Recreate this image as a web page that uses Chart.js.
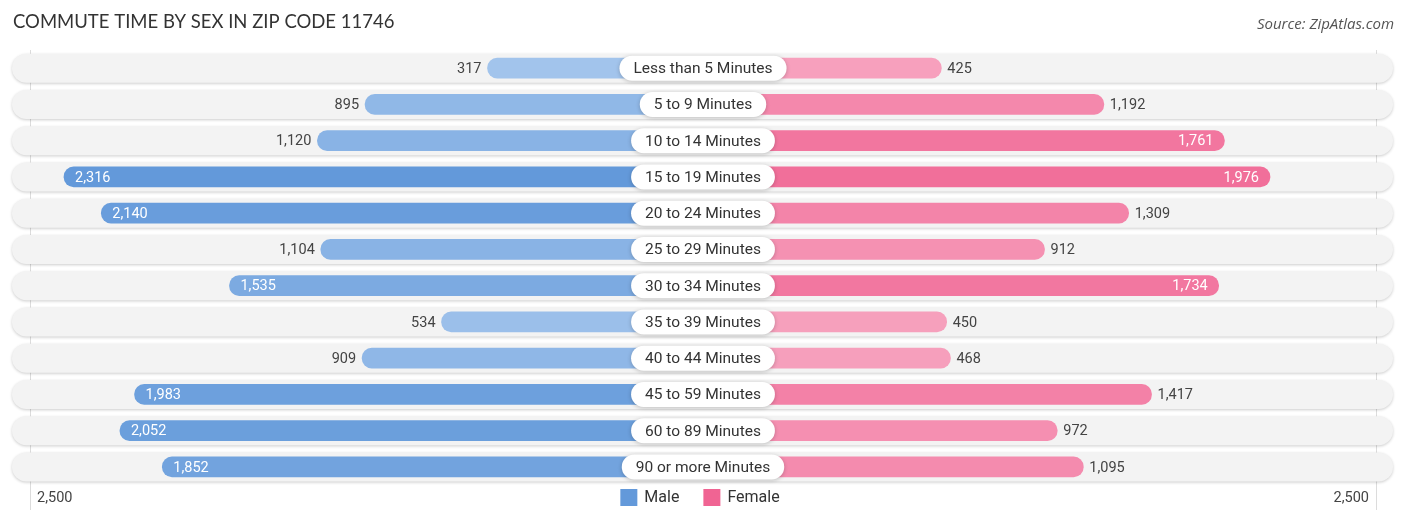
<!DOCTYPE html>
<html>
<head>
<meta charset="utf-8">
<script src="https://cdn.jsdelivr.net/npm/chart.js@4.4.1/dist/chart.umd.min.js"></script>
<style>
  html, body { margin: 0; padding: 0; background: #fff; }
  #wrap { width: 1406px; height: 523px; position: relative; }
</style>
</head>
<body>
<div id="wrap"><canvas id="chart"></canvas></div>
<script>
const categories = ['Less than 5 Minutes', '5 to 9 Minutes', '10 to 14 Minutes', '15 to 19 Minutes',
  '20 to 24 Minutes', '25 to 29 Minutes', '30 to 34 Minutes', '35 to 39 Minutes',
  '40 to 44 Minutes', '45 to 59 Minutes', '60 to 89 Minutes', '90 or more Minutes'];
const male = [317, 895, 1120, 2316, 2140, 1104, 1535, 534, 909, 1983, 2052, 1852];
const female = [425, 1192, 1761, 1976, 1309, 912, 1734, 450, 468, 1417, 972, 1095];
const axisMax = 2500;
const axisLabels = ['2,500', '2,500'];

const GAP = 700; // room in the middle for the category pills
const fmt = v => v.toLocaleString('en-US');

const mix = (a, b, t) => {
  const r = Math.round(a[0] + (b[0] - a[0]) * t);
  const g = Math.round(a[1] + (b[1] - a[1]) * t);
  const bl = Math.round(a[2] + (b[2] - a[2]) * t);
  return `rgb(${r},${g},${bl})`;
};
const maxVal = Math.max(...male, ...female);
const maleColors = male.map(v => mix([172, 203, 239], [99, 153, 218], v / maxVal));
const femaleColors = female.map(v => mix([248, 174, 198], [240, 100, 147], v / maxVal));

const rowsPlugin = {
  id: 'rows',
  beforeDatasetsDraw(chart) {
    const { ctx, chartArea, scales: { y } } = chart;
    ctx.save();
    // gridlines at the edges
    ctx.strokeStyle = '#dcdcdc';
    ctx.lineWidth = 1;
    [chartArea.left + 5, chartArea.right - 5].forEach(x => {
      ctx.beginPath();
      ctx.moveTo(x + 0.5, chartArea.top);
      ctx.lineTo(x + 0.5, 510);
      ctx.stroke();
    });
    categories.forEach((c, i) => {
      const cy = y.getPixelForValue(i);
      const h = 29, left = 12, right = 1393;
      ctx.shadowColor = 'rgba(0,0,0,0.2)';
      ctx.shadowBlur = 3;
      ctx.shadowOffsetY = 1;
      ctx.fillStyle = '#f3f3f3';
      ctx.beginPath();
      ctx.roundRect(left, cy - h / 2, right - left, h, h / 2);
      ctx.fill();
    });
    ctx.restore();
  },
  afterDatasetsDraw(chart) {
    const { ctx, scales: { x, y } } = chart;
    const cx = x.getPixelForValue(0);
    ctx.save();
    ctx.textBaseline = 'middle';
    categories.forEach((c, i) => {
      const cy = y.getPixelForValue(i);
      // category pill
      ctx.font = '15.5px Roboto';
      const w = ctx.measureText(c).width + 28;
      const h = 25;
      ctx.shadowColor = 'rgba(0,0,0,0.22)';
      ctx.shadowBlur = 4;
      ctx.shadowOffsetY = 1;
      ctx.fillStyle = '#fff';
      ctx.beginPath();
      ctx.roundRect(cx - w / 2, cy - h / 2, w, h, h / 2);
      ctx.fill();
      ctx.shadowColor = 'transparent';
      ctx.fillStyle = '#333';
      ctx.textAlign = 'center';
      ctx.fillText(c, cx, cy + 1);

      // value labels
      ctx.font = '14.5px Roboto';
      const mx = x.getPixelForValue(-(male[i] + GAP));
      if (male[i] >= 1500) {
        ctx.fillStyle = '#fff';
        ctx.textAlign = 'left';
        ctx.fillText(fmt(male[i]), mx + 11, cy + 1);
      } else {
        ctx.fillStyle = '#444';
        ctx.textAlign = 'right';
        ctx.fillText(fmt(male[i]), mx - 6, cy + 1);
      }
      const fx = x.getPixelForValue(female[i] + GAP);
      if (female[i] >= 1500) {
        ctx.fillStyle = '#fff';
        ctx.textAlign = 'right';
        ctx.fillText(fmt(female[i]), fx - 11, cy + 1);
      } else {
        ctx.fillStyle = '#444';
        ctx.textAlign = 'left';
        ctx.fillText(fmt(female[i]), fx + 6, cy + 1);
      }
    });
    ctx.restore();
  },
  afterDraw(chart) {
    const { ctx, chartArea } = chart;
    ctx.save();
    ctx.textBaseline = 'middle';
    // title + source
    ctx.fillStyle = '#333';
    ctx.font = '18.5px Lato';
    ctx.textAlign = 'left';
    ctx.fillText('COMMUTE TIME BY SEX IN ZIP CODE 11746', 13, 22);
    ctx.fillStyle = '#555';
    ctx.font = 'italic 15px "Open Sans"';
    ctx.textAlign = 'right';
    ctx.fillText('Source: ZipAtlas.com', 1394, 25);

    // axis end labels
    ctx.fillStyle = '#444';
    ctx.font = '14.5px Roboto';
    ctx.textAlign = 'left';
    ctx.fillText(axisLabels[0], chartArea.left + 12, 498);
    ctx.textAlign = 'right';
    ctx.fillText(axisLabels[1], chartArea.right - 12, 498);

    // legend
    const items = [['Male', 'rgb(99,153,218)'], ['Female', 'rgb(240,100,147)']];
    ctx.font = '16px Roboto';
    ctx.textAlign = 'left';
    const widths = items.map(([t]) => 17 + 7 + ctx.measureText(t).width);
    const total = widths.reduce((a, b) => a + b, 0) + 24;
    let lx = 700 - total / 2;
    items.forEach(([t, col], k) => {
      ctx.fillStyle = col;
      ctx.fillRect(lx, 489, 17, 17);
      ctx.fillStyle = '#333';
      ctx.fillText(t, lx + 24, 498);
      lx += widths[k] + 24;
    });
    ctx.restore();
  }
};

new Chart(document.getElementById('chart'), {
  type: 'bar',
  data: {
    labels: categories,
    datasets: [
      {
        label: 'Male',
        data: male.map(v => [-(v + GAP), 0]),
        backgroundColor: maleColors,
        borderRadius: 10,
        borderSkipped: false,
        barThickness: 20,
        grouped: false
      },
      {
        label: 'Female',
        data: female.map(v => [0, v + GAP]),
        backgroundColor: femaleColors,
        borderRadius: 10,
        borderSkipped: false,
        barThickness: 20,
        grouped: false
      }
    ]
  },
  options: {
    indexAxis: 'y',
    responsive: true,
    maintainAspectRatio: false,
    animation: false,
    layout: { padding: { left: 25, right: 25, top: 50, bottom: 38 } },
    scales: {
      x: {
        min: -(axisMax + GAP),
        max: axisMax + GAP,
        display: false
      },
      y: {
        display: false,
        grid: { display: false }
      }
    },
    plugins: {
      legend: { display: false },
      tooltip: { enabled: false }
    }
  },
  plugins: [rowsPlugin]
});
</script>
</body>
</html>
